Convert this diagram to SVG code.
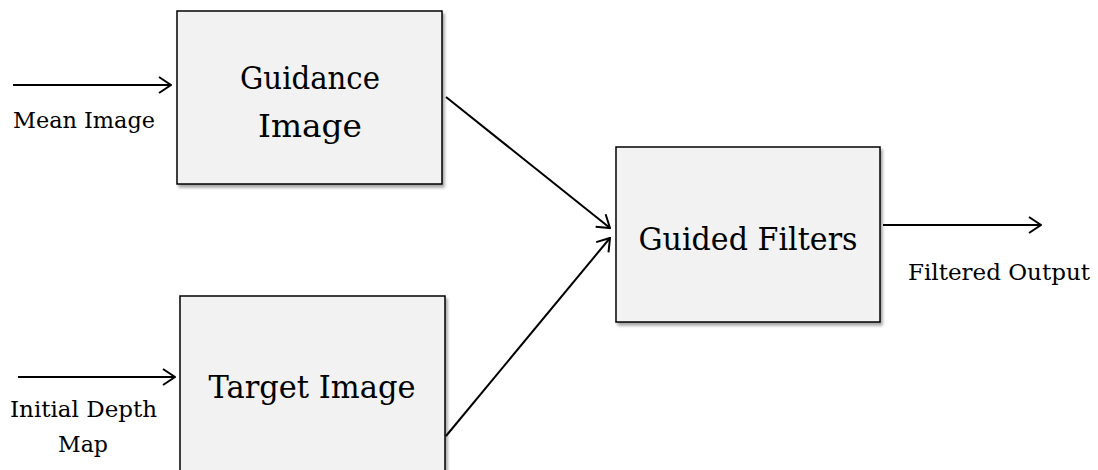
<svg xmlns="http://www.w3.org/2000/svg" width="1098" height="470" viewBox="0 0 1098 470">
  <style>
    .box { fill: #f2f2f2; stroke: #000; stroke-width: 1.5; filter: url(#shadow); }
    .big { font-family: "DejaVu Serif", "Liberation Serif", serif; font-size: 32px; fill: #000; text-anchor: middle; }
    .lbl { font-family: "DejaVu Serif", "Liberation Serif", serif; font-size: 22px; fill: #000; }
    .conn { stroke: #000; stroke-width: 2; fill: none; marker-end: url(#arrow); }
  </style>
  <defs>
    <marker id="arrow" viewBox="0 0 14 18" refX="13" refY="9" markerWidth="14" markerHeight="18" markerUnits="userSpaceOnUse" orient="auto">
      <path d="M1,1 L13,9 L1,17" fill="none" stroke="#000" stroke-width="2"/>
    </marker>
    <filter id="shadow" x="-5%" y="-5%" width="115%" height="115%">
      <feGaussianBlur in="SourceAlpha" stdDeviation="1.5"/>
      <feOffset dx="1.5" dy="2.5" result="b"/>
      <feComponentTransfer><feFuncA type="linear" slope="0.35"/></feComponentTransfer>
      <feMerge><feMergeNode/><feMergeNode in="SourceGraphic"/></feMerge>
    </filter>
  </defs>
  <rect width="1098" height="470" fill="#fff"/>

  <g id="connectors">
    <line class="conn" x1="13" y1="85" x2="171" y2="85"/>
    <line class="conn" x1="18" y1="377" x2="175" y2="377"/>
    <line class="conn" x1="446" y1="97" x2="610" y2="228"/>
    <line class="conn" x1="446" y1="436" x2="610" y2="238"/>
    <line class="conn" x1="883" y1="225" x2="1041" y2="225"/>
  </g>

  <g id="guidance-image">
    <rect class="box" x="177" y="11" width="265" height="173"/>
    <text class="big" x="310" y="89" textLength="140" lengthAdjust="spacingAndGlyphs">Guidance</text>
    <text class="big" x="310" y="137" textLength="104" lengthAdjust="spacingAndGlyphs">Image</text>
  </g>

  <g id="target-image">
    <rect class="box" x="180" y="296" width="265" height="190"/>
    <text class="big" x="312" y="398" textLength="207" lengthAdjust="spacingAndGlyphs">Target Image</text>
  </g>

  <g id="guided-filters">
    <rect class="box" x="616" y="147" width="264" height="175"/>
    <text class="big" x="748" y="250" textLength="219" lengthAdjust="spacingAndGlyphs">Guided Filters</text>
  </g>

  <g id="labels">
    <text class="lbl" x="13" y="128" textLength="142" lengthAdjust="spacingAndGlyphs">Mean Image</text>
    <text class="lbl" x="10" y="417" textLength="147" lengthAdjust="spacingAndGlyphs">Initial Depth</text>
    <text class="lbl" x="58" y="452" textLength="50" lengthAdjust="spacingAndGlyphs">Map</text>
    <text class="lbl" x="908" y="280" textLength="182" lengthAdjust="spacingAndGlyphs">Filtered Output</text>
  </g>
</svg>
